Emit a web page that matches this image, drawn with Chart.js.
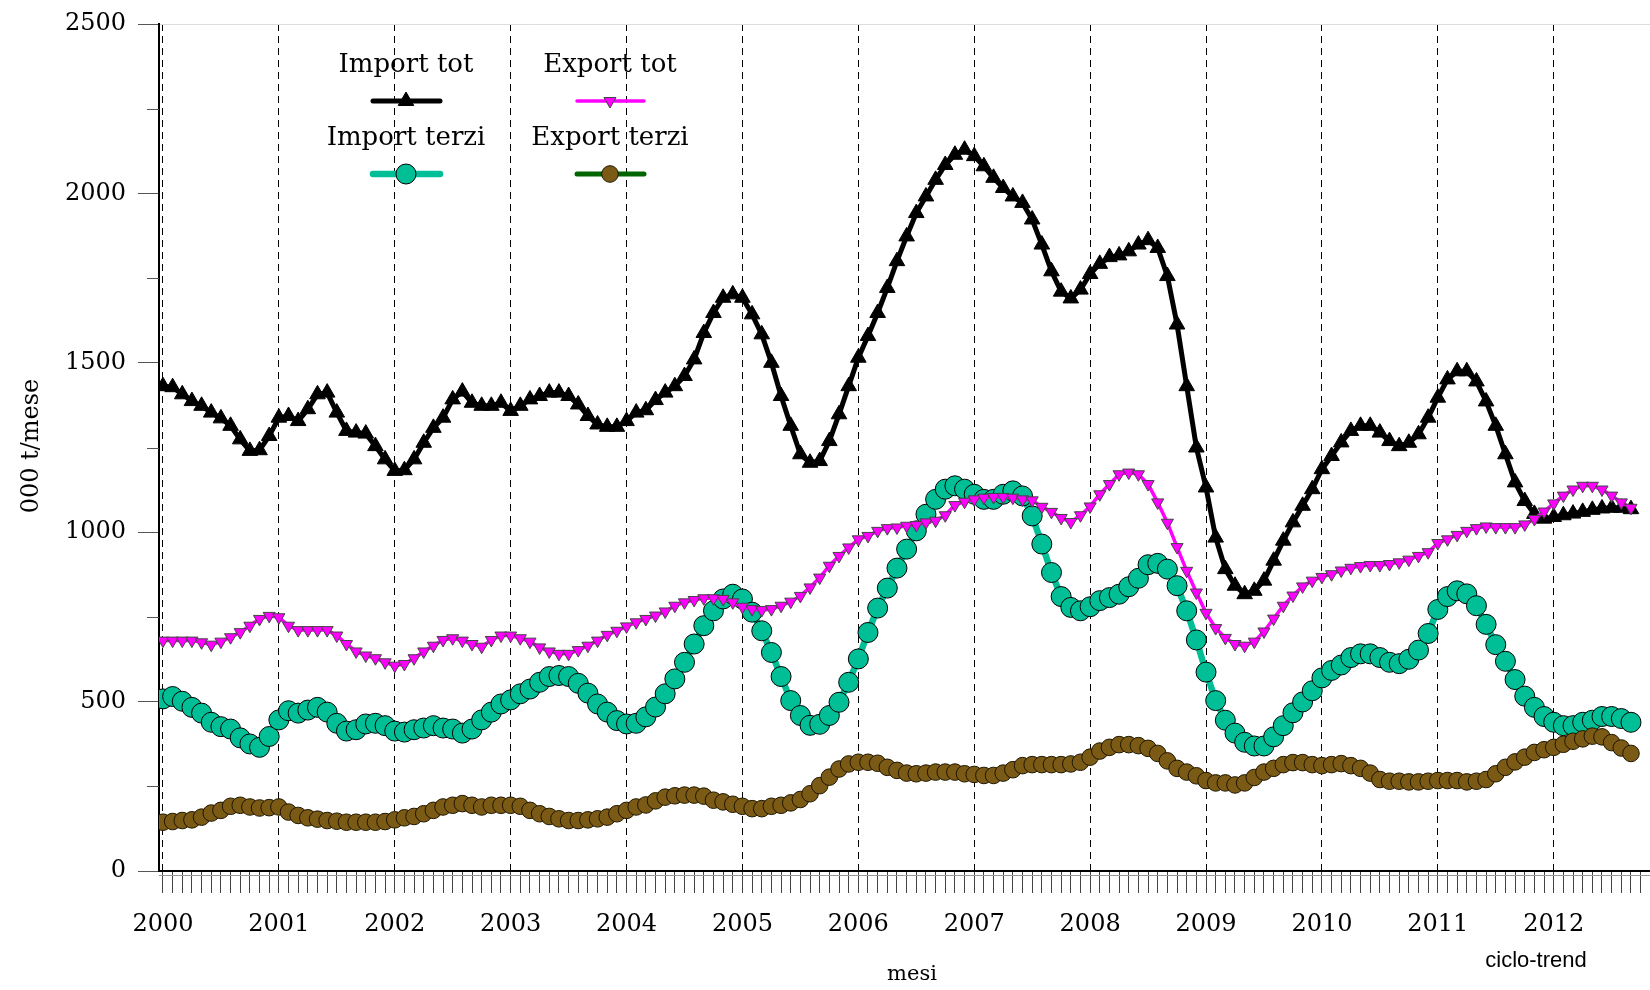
<!DOCTYPE html>
<html>
<head>
<meta charset="utf-8">
<script src="https://cdn.jsdelivr.net/npm/chart.js@4.4.1/dist/chart.umd.min.js"></script>
<style>
  body { margin: 0; background: #fff; }
  #wrap { width: 1650px; height: 990px; }
</style>
</head>
<body>
<div id="wrap"><canvas id="flussi" width="1650" height="990"></canvas></div>
<script>
// serie mensili gen 2000 - set 2012, ciclo-trend, 000 t/mese
var firstYear = 2000;

var impTot = [1431, 1428, 1407, 1387, 1373, 1353, 1336, 1314, 1274, 1240, 1242, 1284,
  1338, 1343, 1328, 1363, 1407, 1412, 1353, 1299, 1294, 1291, 1254, 1215,
  1181, 1183, 1215, 1264, 1308, 1338, 1392, 1415, 1382, 1373, 1373, 1382,
  1358, 1373, 1392, 1402, 1412, 1412, 1402, 1377, 1343, 1318, 1311, 1311,
  1328, 1353, 1360, 1390, 1412, 1431, 1461, 1510, 1588, 1647, 1692, 1702,
  1692, 1643, 1584, 1500, 1402, 1314, 1230, 1205, 1210, 1269, 1348, 1431,
  1515, 1579, 1647, 1721, 1800, 1873, 1942, 1991, 2040, 2084, 2114, 2129,
  2110, 2080, 2046, 2016, 1991, 1972, 1923, 1849, 1770, 1710, 1690, 1716,
  1762, 1792, 1812, 1817, 1829, 1849, 1862, 1839, 1756, 1613, 1431, 1250,
  1132, 984, 891, 842, 817, 827, 857, 916, 975, 1029, 1078, 1127,
  1186, 1225, 1265, 1299, 1314, 1314, 1294, 1269, 1254, 1264, 1289, 1338,
  1397, 1451, 1475, 1475, 1445, 1386, 1314, 1230, 1147, 1092, 1054, 1040,
  1045, 1050, 1055, 1060, 1066, 1070, 1072, 1072, 1068];

var expTot = [680, 680, 680, 680, 675, 668, 677, 690, 705, 724, 744, 753,
  749, 724, 711, 711, 711, 711, 695, 670, 648, 636, 628, 616,
  606, 611, 628, 648, 665, 682, 687, 680, 670, 662, 682, 695,
  695, 687, 677, 660, 648, 641, 641, 652, 665, 680, 697, 709,
  722, 734, 744, 754, 766, 783, 793, 800, 805, 805, 803, 793,
  780, 773, 770, 773, 783, 795, 812, 837, 866, 901, 930, 955,
  979, 989, 1004, 1012, 1014, 1019, 1021, 1029, 1034, 1050, 1080, 1090,
  1097, 1102, 1104, 1104, 1102, 1097, 1094, 1075, 1060, 1042, 1030, 1050,
  1076, 1112, 1142, 1171, 1176, 1171, 1142, 1088, 1028, 956, 886, 822,
  762, 717, 688, 670, 665, 677, 707, 745, 783, 813, 840, 857,
  868, 876, 887, 895, 900, 903, 903, 906, 911, 919, 930, 941,
  968, 979, 992, 1004, 1012, 1017, 1015, 1015, 1015, 1023, 1039, 1061,
  1085, 1108, 1126, 1137, 1137, 1126, 1108, 1088, 1072];

var impTerzi = [508, 515, 501, 483, 466, 439, 426, 419, 393, 375, 365, 397,
  446, 473, 466, 475, 483, 469, 436, 413, 417, 434, 436, 429,
  413, 410, 417, 422, 429, 422, 419, 407, 419, 446, 469, 493,
  505, 523, 537, 557, 574, 577, 574, 554, 525, 493, 469, 444,
  434, 436, 455, 484, 523, 567, 616, 670, 724, 768, 803, 817,
  803, 764, 709, 645, 574, 503, 459, 430, 433, 459, 498, 557,
  626, 704, 776, 835, 894, 950, 1004, 1053, 1097, 1127, 1137, 1127,
  1112, 1097, 1097, 1112, 1122, 1107, 1048, 965, 881, 810, 778, 768,
  780, 798, 807, 817, 839, 864, 904, 908, 891, 842, 768, 682,
  587, 503, 445, 407, 380, 369, 369, 396, 429, 467, 499, 532,
  570, 592, 608, 630, 641, 641, 630, 616, 612, 625, 652, 701,
  772, 810, 827, 818, 783, 728, 668, 619, 565, 516, 483, 456,
  439, 429, 429, 439, 445, 456, 456, 450, 439];

var expTerzi = [144, 146, 149, 151, 159, 171, 179, 191, 194, 189, 186, 187,
  189, 174, 164, 157, 153, 149, 147, 144, 144, 144, 144, 146,
  151, 157, 161, 169, 179, 189, 194, 199, 194, 189, 194, 194,
  194, 191, 179, 169, 161, 154, 149, 149, 151, 154, 159, 169,
  179, 189, 195, 207, 218, 222, 224, 224, 221, 209, 204, 197,
  191, 184, 184, 191, 194, 201, 211, 228, 252, 277, 301, 316,
  321, 321, 318, 306, 297, 289, 287, 289, 292, 292, 292, 287,
  285, 282, 282, 289, 299, 311, 314, 314, 314, 314, 316, 321,
  336, 354, 365, 373, 373, 370, 362, 347, 325, 303, 292, 281,
  267, 260, 260, 254, 260, 276, 292, 303, 314, 320, 320, 314,
  311, 314, 317, 311, 303, 289, 270, 265, 265, 263, 263, 265,
  267, 267, 267, 263, 265, 270, 287, 306, 322, 336, 350, 358,
  365, 374, 383, 390, 398, 396, 379, 363, 347];

var seriesNames = ['Import tot', 'Export tot', 'Import terzi', 'Export terzi'];
var yTicks = [0, 500, 1000, 1500, 2000, 2500];

const SERIF = "'DejaVu Serif', serif";

function toXY(arr) {
  return arr.map((v, i) => ({ x: i, y: v }));
}

const styles = [
  { line: '#000000', width: 5, shape: 'triangle', rot: 0, r: 9, fill: '#000000', edge: '#000000', order: 1 },
  { line: '#ff00ff', width: 3.5, shape: 'triangle', rot: 180, r: 7, fill: '#ff00ff', edge: '#444444', order: 0 },
  { line: '#00bf96', width: 6.5, shape: 'circle', rot: 0, r: 10, fill: '#00bf96', edge: '#000000', order: 3 },
  { line: '#006400', width: 5, shape: 'circle', rot: 0, r: 8.3, fill: '#7a5a14', edge: '#1e1600', order: 2 }
];

const allSeries = [impTot, expTot, impTerzi, expTerzi];

const datasets = allSeries.map((s, k) => ({
  label: seriesNames[k],
  data: toXY(s),
  borderColor: styles[k].line,
  borderWidth: styles[k].width,
  pointStyle: styles[k].shape,
  pointRotation: styles[k].rot,
  pointRadius: styles[k].r,
  pointHoverRadius: styles[k].r,
  pointBackgroundColor: styles[k].fill,
  pointBorderColor: styles[k].edge,
  pointBorderWidth: 1,
  tension: 0,
  order: styles[k].order
}));

const overlay = {
  id: 'overlay',
  afterDraw(chart) {
    const ctx = chart.ctx;
    const area = chart.chartArea;
    const yScale = chart.scales.y;
    ctx.save();

    // tacche minori asse y
    ctx.strokeStyle = '#555';
    ctx.lineWidth = 1;
    for (let v = 250; v < 2500; v += 500) {
      const py = Math.round(yScale.getPixelForValue(v)) + 0.5;
      ctx.beginPath();
      ctx.moveTo(area.left - 12, py);
      ctx.lineTo(area.left, py);
      ctx.stroke();
    }
    // riga grigia sotto l'asse x
    ctx.strokeStyle = '#999';
    ctx.beginPath();
    ctx.moveTo(area.left, Math.round(area.bottom) + 4.5);
    ctx.lineTo(area.right, Math.round(area.bottom) + 4.5);
    ctx.stroke();

    // titoli
    ctx.fillStyle = '#000';
    ctx.textAlign = 'center';
    ctx.textBaseline = 'middle';
    ctx.font = '24px ' + SERIF;
    ctx.save();
    ctx.translate(32, 446);
    ctx.rotate(-Math.PI / 2);
    ctx.fillText('000 t/mese', 0, 0);
    ctx.restore();

    ctx.font = '21px ' + SERIF;
    ctx.fillText('mesi', 912, 975);

    ctx.font = "22px 'Liberation Sans', Arial, sans-serif";
    ctx.fillText('ciclo-trend', 1536, 961);

    // legenda
    const cols = [406, 610];
    const textY = [65, 138];
    const lineY = [101, 174];
    ctx.font = '26px ' + SERIF;
    for (let k = 0; k < 4; k++) {
      const cx = cols[k % 2];
      const row = Math.floor(k / 2);
      const st = styles[k];
      ctx.fillStyle = '#000';
      ctx.fillText(seriesNames[k], cx, textY[row]);
      ctx.strokeStyle = st.line;
      ctx.lineWidth = st.width;
      ctx.lineCap = 'round';
      ctx.beginPath();
      ctx.moveTo(cx - 33, lineY[row]);
      ctx.lineTo(cx + 34, lineY[row]);
      ctx.stroke();
      ctx.lineCap = 'butt';
      ctx.fillStyle = st.fill;
      ctx.strokeStyle = st.edge;
      ctx.lineWidth = 1;
      Chart.helpers.drawPoint(ctx, { pointStyle: st.shape, rotation: st.rot, radius: st.r, borderWidth: 1 }, cx, lineY[row]);
    }
    ctx.restore();
  }
};

new Chart(document.getElementById('flussi'), {
  type: 'line',
  data: { datasets: datasets },
  options: {
    responsive: false,
    animation: false,
    layout: { autoPadding: false, padding: { top: 22.5, right: 0, left: 0, bottom: 0 } },
    plugins: { legend: { display: false }, tooltip: { enabled: false } },
    scales: {
      x: {
        type: 'linear',
        min: -0.41,
        max: 153.97,
        afterFit: (scale) => { scale.height = 119; },
        ticks: {
          stepSize: 1,
          autoSkip: false,
          includeBounds: false,
          maxRotation: 0,
          padding: 0,
          color: '#000',
          font: { family: SERIF, size: 24, lineHeight: 2.65 },
          callback: (v) => (v % 12 === 0 ? String(firstYear + v / 12) : '')
        },
        grid: {
          color: (c) => (c.tick && c.tick.value % 12 === 0 ? '#000' : 'rgba(0,0,0,0)'),
          tickColor: '#444',
          tickLength: 22,
          lineWidth: 1
        },
        border: { display: true, color: '#000', width: 2, dash: [7, 5] }
      },
      y: {
        min: 0,
        max: 2500,
        afterFit: (scale) => { scale.width = 159; },
        ticks: {
          stepSize: 250,
          padding: 12,
          color: '#000',
          font: { family: SERIF, size: 24, lineHeight: 1 },
          callback: (v) => (yTicks.indexOf(v) >= 0 ? String(v) : '')
        },
        grid: {
          color: (c) => (c.tick && c.tick.value === 2500 ? '#dddddd' : 'rgba(0,0,0,0)'),
          tickColor: (c) => (c.tick && c.tick.value % 500 === 0 ? '#555' : 'rgba(0,0,0,0)'),
          tickLength: 21,
          lineWidth: 1
        },
        border: { display: true, color: '#000', width: 2 }
      }
    }
  },
  plugins: [overlay]
});
</script>
</body>
</html>
